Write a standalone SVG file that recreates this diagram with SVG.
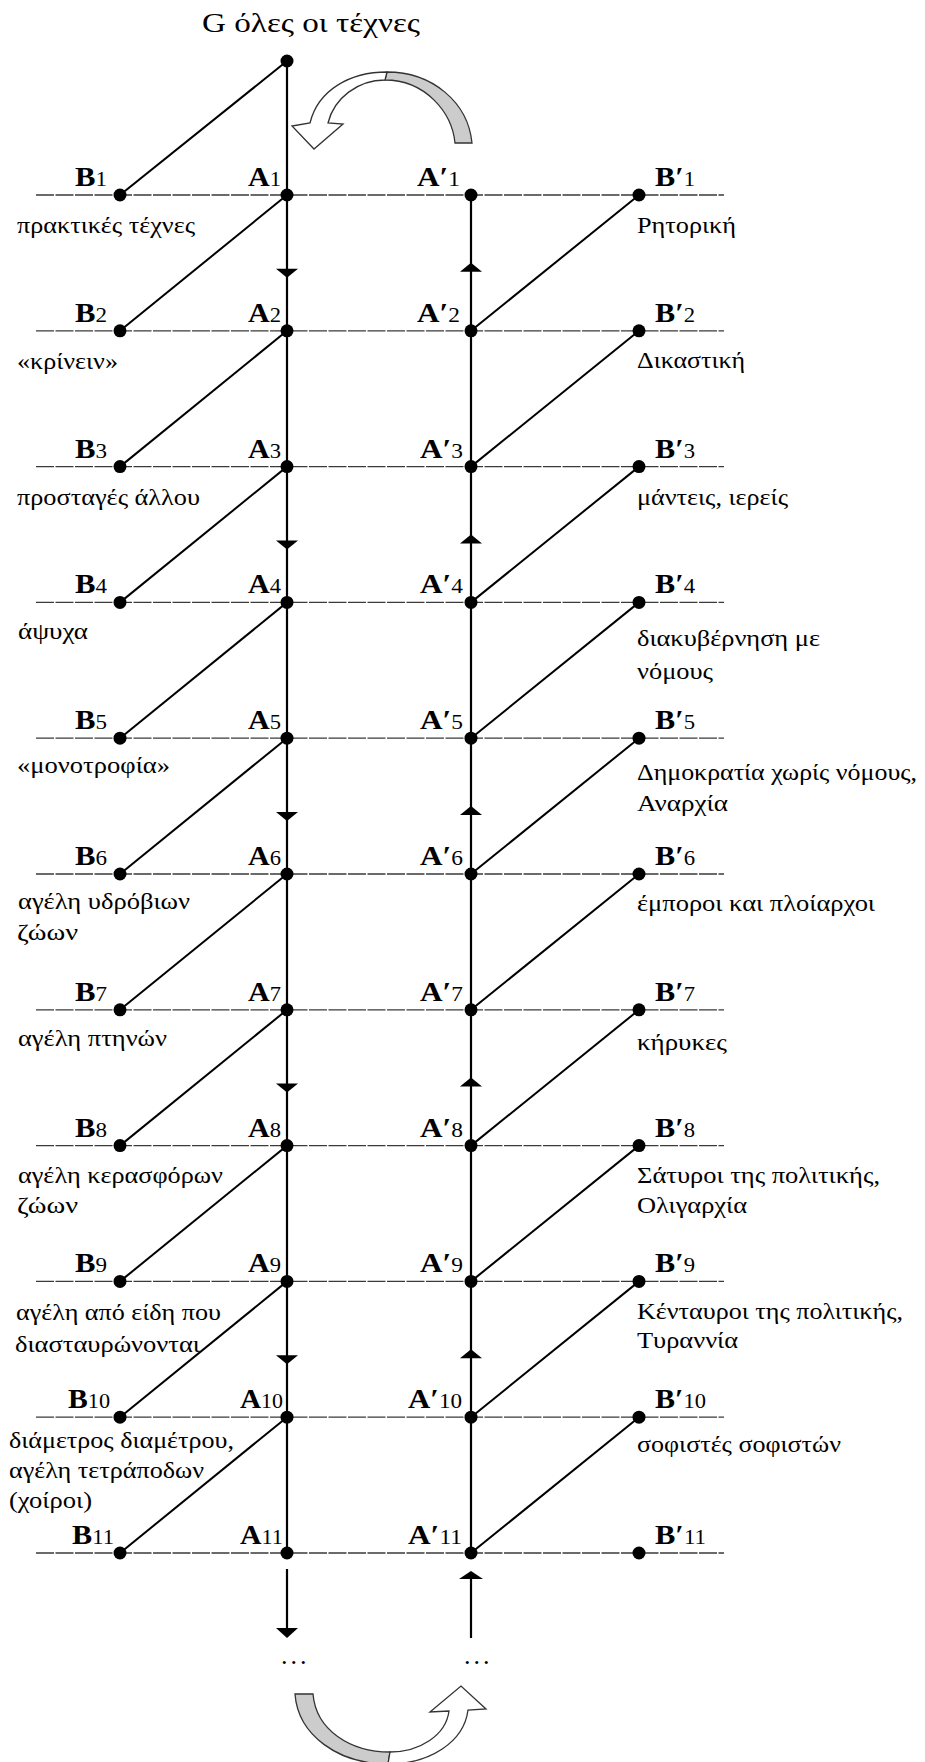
<svg xmlns="http://www.w3.org/2000/svg" width="925" height="1762" viewBox="0 0 925 1762">
<style>
.h{stroke:#3a3a3a;stroke-width:1.3;stroke-dasharray:18 1.5;fill:none}
.v{stroke:#000;stroke-width:2.2;fill:none}
.d{stroke:#000;stroke-width:2;fill:none}
.ah{fill:#000;stroke:none}
.dot{fill:#000}
.lbl{font-family:"Liberation Serif","Times New Roman",serif;font-weight:bold;font-size:28px;fill:#000}
.sub{font-size:21px;font-weight:normal}
.txt{font-family:"Liberation Serif","Times New Roman",serif;font-size:24px;fill:#000}
.ttl{font-family:"Liberation Serif","Times New Roman",serif;font-size:27px;fill:#000}
.dots{font-family:"Liberation Serif","Times New Roman",serif;font-size:26px;letter-spacing:3px;fill:#000}
.cw{fill:#fff;stroke:#333;stroke-width:1.3;stroke-linejoin:miter}
.cg{fill:#cccccc;stroke:#333;stroke-width:1.3}
</style>
<rect width="925" height="1762" fill="#fff"/>

<g id="rows">
<line class="h" x1="36" y1="195" x2="724" y2="195"/>
<line class="h" x1="36" y1="330.8" x2="724" y2="330.8"/>
<line class="h" x1="36" y1="466.6" x2="724" y2="466.6"/>
<line class="h" x1="36" y1="602.4" x2="724" y2="602.4"/>
<line class="h" x1="36" y1="738.2" x2="724" y2="738.2"/>
<line class="h" x1="36" y1="874" x2="724" y2="874"/>
<line class="h" x1="36" y1="1009.8" x2="724" y2="1009.8"/>
<line class="h" x1="36" y1="1145.6" x2="724" y2="1145.6"/>
<line class="h" x1="36" y1="1281.4" x2="724" y2="1281.4"/>
<line class="h" x1="36" y1="1417.2" x2="724" y2="1417.2"/>
<line class="h" x1="36" y1="1553" x2="724" y2="1553"/>
</g>

<g id="connectors">
<line class="v" x1="287" y1="61" x2="287" y2="1553"/>
<line class="v" x1="471" y1="195" x2="471" y2="1553"/>
<line class="d" x1="120" y1="195" x2="287" y2="61"/>
<line class="d" x1="120" y1="330.8" x2="287" y2="195"/>
<line class="d" x1="120" y1="466.6" x2="287" y2="330.8"/>
<line class="d" x1="120" y1="602.4" x2="287" y2="466.6"/>
<line class="d" x1="120" y1="738.2" x2="287" y2="602.4"/>
<line class="d" x1="120" y1="874" x2="287" y2="738.2"/>
<line class="d" x1="120" y1="1009.8" x2="287" y2="874"/>
<line class="d" x1="120" y1="1145.6" x2="287" y2="1009.8"/>
<line class="d" x1="120" y1="1281.4" x2="287" y2="1145.6"/>
<line class="d" x1="120" y1="1417.2" x2="287" y2="1281.4"/>
<line class="d" x1="120" y1="1553" x2="287" y2="1417.2"/>
<line class="d" x1="639" y1="195" x2="471" y2="330.8"/>
<line class="d" x1="639" y1="330.8" x2="471" y2="466.6"/>
<line class="d" x1="639" y1="466.6" x2="471" y2="602.4"/>
<line class="d" x1="639" y1="602.4" x2="471" y2="738.2"/>
<line class="d" x1="639" y1="738.2" x2="471" y2="874"/>
<line class="d" x1="639" y1="874" x2="471" y2="1009.8"/>
<line class="d" x1="639" y1="1009.8" x2="471" y2="1145.6"/>
<line class="d" x1="639" y1="1145.6" x2="471" y2="1281.4"/>
<line class="d" x1="639" y1="1281.4" x2="471" y2="1417.2"/>
<line class="d" x1="639" y1="1417.2" x2="471" y2="1553"/>
<polygon class="ah" points="276,268.8 298,268.8 287,277.8"/>
<polygon class="ah" points="276,540.4 298,540.4 287,549.4"/>
<polygon class="ah" points="276,812 298,812 287,821"/>
<polygon class="ah" points="276,1083.6 298,1083.6 287,1092.6"/>
<polygon class="ah" points="276,1355.2 298,1355.2 287,1364.2"/>
<polygon class="ah" points="460,271.8 482,271.8 471,262.8"/>
<polygon class="ah" points="460,543.4 482,543.4 471,534.4"/>
<polygon class="ah" points="460,815 482,815 471,806"/>
<polygon class="ah" points="460,1086.6 482,1086.6 471,1077.6"/>
<polygon class="ah" points="460,1358.2 482,1358.2 471,1349.2"/>
<line class="v" x1="287" y1="1569" x2="287" y2="1630"/>
<polygon class="ah" points="276,1628 298,1628 287,1638"/>
<line class="v" x1="471" y1="1638" x2="471" y2="1578"/>
<polygon class="ah" points="459,1579 483,1579 471,1571"/>
<text class="dots" x="281" y="1664">...</text>
<text class="dots" x="464" y="1664">...</text>
</g>

<g id="loop-top">
<path class="cg" d="M387,72 C432,72 468,102 472,143 L455,143 C452,112 425,80 385,80 Z"/>
<path class="cw" d="M387,72 C350,72 318,90 310,123 L292,126 L314,149 L343,124 L328,123 C334,98 358,80 385,80 Z"/>
</g>
<g id="loop-bottom">
<path class="cg" d="M295,1694 C298,1735 338,1764 388,1764 L390,1752 C350,1752 316,1730 313,1694 Z"/>
<path class="cw" d="M388,1764 C430,1764 464,1742 468,1710 L486,1709 L461,1686 L430,1712 L449,1711 C446,1735 420,1752 390,1752 Z"/>
</g>

<g id="G"><circle class="dot" cx="287" cy="61" r="6.5"/><text class="ttl" x="202" y="32" textLength="218" lengthAdjust="spacingAndGlyphs">G όλες οι τέχνες</text></g>

<g id="A1"><circle class="dot" cx="287" cy="195" r="6.5"/><text class="lbl" x="248" y="186" textLength="33" lengthAdjust="spacingAndGlyphs">A<tspan class="sub">1</tspan></text></g>
<g id="A2"><circle class="dot" cx="287" cy="330.8" r="6.5"/><text class="lbl" x="248" y="321.8" textLength="33" lengthAdjust="spacingAndGlyphs">A<tspan class="sub">2</tspan></text></g>
<g id="A3"><circle class="dot" cx="287" cy="466.6" r="6.5"/><text class="lbl" x="248" y="457.6" textLength="33" lengthAdjust="spacingAndGlyphs">A<tspan class="sub">3</tspan></text></g>
<g id="A4"><circle class="dot" cx="287" cy="602.4" r="6.5"/><text class="lbl" x="248" y="593.4" textLength="33" lengthAdjust="spacingAndGlyphs">A<tspan class="sub">4</tspan></text></g>
<g id="A5"><circle class="dot" cx="287" cy="738.2" r="6.5"/><text class="lbl" x="248" y="729.2" textLength="33" lengthAdjust="spacingAndGlyphs">A<tspan class="sub">5</tspan></text></g>
<g id="A6"><circle class="dot" cx="287" cy="874" r="6.5"/><text class="lbl" x="248" y="865" textLength="33" lengthAdjust="spacingAndGlyphs">A<tspan class="sub">6</tspan></text></g>
<g id="A7"><circle class="dot" cx="287" cy="1009.8" r="6.5"/><text class="lbl" x="248" y="1000.8" textLength="33" lengthAdjust="spacingAndGlyphs">A<tspan class="sub">7</tspan></text></g>
<g id="A8"><circle class="dot" cx="287" cy="1145.6" r="6.5"/><text class="lbl" x="248" y="1136.6" textLength="33" lengthAdjust="spacingAndGlyphs">A<tspan class="sub">8</tspan></text></g>
<g id="A9"><circle class="dot" cx="287" cy="1281.4" r="6.5"/><text class="lbl" x="248" y="1272.4" textLength="33" lengthAdjust="spacingAndGlyphs">A<tspan class="sub">9</tspan></text></g>
<g id="A10"><circle class="dot" cx="287" cy="1417.2" r="6.5"/><text class="lbl" x="240" y="1408.2" textLength="43" lengthAdjust="spacingAndGlyphs">A<tspan class="sub">10</tspan></text></g>
<g id="A11"><circle class="dot" cx="287" cy="1553" r="6.5"/><text class="lbl" x="240" y="1544" textLength="43" lengthAdjust="spacingAndGlyphs">A<tspan class="sub">11</tspan></text></g>

<g id="Ap1"><circle class="dot" cx="471" cy="195" r="6.5"/><text class="lbl" x="417" y="186" textLength="43" lengthAdjust="spacingAndGlyphs">A′<tspan class="sub">1</tspan></text></g>
<g id="Ap2"><circle class="dot" cx="471" cy="330.8" r="6.5"/><text class="lbl" x="417" y="321.8" textLength="43" lengthAdjust="spacingAndGlyphs">A′<tspan class="sub">2</tspan></text></g>
<g id="Ap3"><circle class="dot" cx="471" cy="466.6" r="6.5"/><text class="lbl" x="420" y="457.6" textLength="43" lengthAdjust="spacingAndGlyphs">A′<tspan class="sub">3</tspan></text></g>
<g id="Ap4"><circle class="dot" cx="471" cy="602.4" r="6.5"/><text class="lbl" x="420" y="593.4" textLength="43" lengthAdjust="spacingAndGlyphs">A′<tspan class="sub">4</tspan></text></g>
<g id="Ap5"><circle class="dot" cx="471" cy="738.2" r="6.5"/><text class="lbl" x="420" y="729.2" textLength="43" lengthAdjust="spacingAndGlyphs">A′<tspan class="sub">5</tspan></text></g>
<g id="Ap6"><circle class="dot" cx="471" cy="874" r="6.5"/><text class="lbl" x="420" y="865" textLength="43" lengthAdjust="spacingAndGlyphs">A′<tspan class="sub">6</tspan></text></g>
<g id="Ap7"><circle class="dot" cx="471" cy="1009.8" r="6.5"/><text class="lbl" x="420" y="1000.8" textLength="43" lengthAdjust="spacingAndGlyphs">A′<tspan class="sub">7</tspan></text></g>
<g id="Ap8"><circle class="dot" cx="471" cy="1145.6" r="6.5"/><text class="lbl" x="420" y="1136.6" textLength="43" lengthAdjust="spacingAndGlyphs">A′<tspan class="sub">8</tspan></text></g>
<g id="Ap9"><circle class="dot" cx="471" cy="1281.4" r="6.5"/><text class="lbl" x="420" y="1272.4" textLength="43" lengthAdjust="spacingAndGlyphs">A′<tspan class="sub">9</tspan></text></g>
<g id="Ap10"><circle class="dot" cx="471" cy="1417.2" r="6.5"/><text class="lbl" x="408" y="1408.2" textLength="54" lengthAdjust="spacingAndGlyphs">A′<tspan class="sub">10</tspan></text></g>
<g id="Ap11"><circle class="dot" cx="471" cy="1553" r="6.5"/><text class="lbl" x="408" y="1544" textLength="54" lengthAdjust="spacingAndGlyphs">A′<tspan class="sub">11</tspan></text></g>

<g id="B1"><circle class="dot" cx="120" cy="195" r="6.5"/><text class="lbl" x="75" y="186" textLength="32" lengthAdjust="spacingAndGlyphs">B<tspan class="sub">1</tspan></text><text class="txt" x="17" y="233" textLength="178" lengthAdjust="spacingAndGlyphs">πρακτικές τέχνες</text></g>
<g id="B2"><circle class="dot" cx="120" cy="330.8" r="6.5"/><text class="lbl" x="75" y="321.8" textLength="32" lengthAdjust="spacingAndGlyphs">B<tspan class="sub">2</tspan></text><text class="txt" x="17" y="368.5" textLength="101" lengthAdjust="spacingAndGlyphs">«κρίνειν»</text></g>
<g id="B3"><circle class="dot" cx="120" cy="466.6" r="6.5"/><text class="lbl" x="75" y="457.6" textLength="32" lengthAdjust="spacingAndGlyphs">B<tspan class="sub">3</tspan></text><text class="txt" x="17" y="505" textLength="183" lengthAdjust="spacingAndGlyphs">προσταγές άλλου</text></g>
<g id="B4"><circle class="dot" cx="120" cy="602.4" r="6.5"/><text class="lbl" x="75" y="593.4" textLength="32" lengthAdjust="spacingAndGlyphs">B<tspan class="sub">4</tspan></text><text class="txt" x="18" y="639" textLength="70" lengthAdjust="spacingAndGlyphs">άψυχα</text></g>
<g id="B5"><circle class="dot" cx="120" cy="738.2" r="6.5"/><text class="lbl" x="75" y="729.2" textLength="32" lengthAdjust="spacingAndGlyphs">B<tspan class="sub">5</tspan></text><text class="txt" x="17" y="773" textLength="153" lengthAdjust="spacingAndGlyphs">«μονοτροφία»</text></g>
<g id="B6"><circle class="dot" cx="120" cy="874" r="6.5"/><text class="lbl" x="75" y="865" textLength="32" lengthAdjust="spacingAndGlyphs">B<tspan class="sub">6</tspan></text><text class="txt" x="18" y="909" textLength="172" lengthAdjust="spacingAndGlyphs">αγέλη υδρόβιων</text><text class="txt" x="17" y="940" textLength="61" lengthAdjust="spacingAndGlyphs">ζώων</text></g>
<g id="B7"><circle class="dot" cx="120" cy="1009.8" r="6.5"/><text class="lbl" x="75" y="1000.8" textLength="32" lengthAdjust="spacingAndGlyphs">B<tspan class="sub">7</tspan></text><text class="txt" x="18" y="1046" textLength="149" lengthAdjust="spacingAndGlyphs">αγέλη πτηνών</text></g>
<g id="B8"><circle class="dot" cx="120" cy="1145.6" r="6.5"/><text class="lbl" x="75" y="1136.6" textLength="32" lengthAdjust="spacingAndGlyphs">B<tspan class="sub">8</tspan></text><text class="txt" x="18" y="1183" textLength="205" lengthAdjust="spacingAndGlyphs">αγέλη κερασφόρων</text><text class="txt" x="17" y="1213" textLength="61" lengthAdjust="spacingAndGlyphs">ζώων</text></g>
<g id="B9"><circle class="dot" cx="120" cy="1281.4" r="6.5"/><text class="lbl" x="75" y="1272.4" textLength="32" lengthAdjust="spacingAndGlyphs">B<tspan class="sub">9</tspan></text><text class="txt" x="16" y="1320" textLength="205" lengthAdjust="spacingAndGlyphs">αγέλη από είδη που</text><text class="txt" x="15" y="1352" textLength="185" lengthAdjust="spacingAndGlyphs">διασταυρώνονται</text></g>
<g id="B10"><circle class="dot" cx="120" cy="1417.2" r="6.5"/><text class="lbl" x="68" y="1408.2" textLength="42" lengthAdjust="spacingAndGlyphs">B<tspan class="sub">10</tspan></text><text class="txt" x="9" y="1448" textLength="225" lengthAdjust="spacingAndGlyphs">διάμετρος διαμέτρου,</text><text class="txt" x="9" y="1478" textLength="195" lengthAdjust="spacingAndGlyphs">αγέλη τετράποδων</text><text class="txt" x="9" y="1508" textLength="83" lengthAdjust="spacingAndGlyphs">(χοίροι)</text></g>
<g id="B11"><circle class="dot" cx="120" cy="1553" r="6.5"/><text class="lbl" x="72" y="1544" textLength="42" lengthAdjust="spacingAndGlyphs">B<tspan class="sub">11</tspan></text></g>

<g id="Bp1"><circle class="dot" cx="639" cy="195" r="6.5"/><text class="lbl" x="655" y="186" textLength="40" lengthAdjust="spacingAndGlyphs">B′<tspan class="sub">1</tspan></text><text class="txt" x="637" y="233" textLength="99" lengthAdjust="spacingAndGlyphs">Ρητορική</text></g>
<g id="Bp2"><circle class="dot" cx="639" cy="330.8" r="6.5"/><text class="lbl" x="655" y="321.8" textLength="40" lengthAdjust="spacingAndGlyphs">B′<tspan class="sub">2</tspan></text><text class="txt" x="637" y="368" textLength="108" lengthAdjust="spacingAndGlyphs">Δικαστική</text></g>
<g id="Bp3"><circle class="dot" cx="639" cy="466.6" r="6.5"/><text class="lbl" x="655" y="457.6" textLength="40" lengthAdjust="spacingAndGlyphs">B′<tspan class="sub">3</tspan></text><text class="txt" x="637" y="505" textLength="151" lengthAdjust="spacingAndGlyphs">μάντεις, ιερείς</text></g>
<g id="Bp4"><circle class="dot" cx="639" cy="602.4" r="6.5"/><text class="lbl" x="655" y="593.4" textLength="40" lengthAdjust="spacingAndGlyphs">B′<tspan class="sub">4</tspan></text><text class="txt" x="637" y="646" textLength="183" lengthAdjust="spacingAndGlyphs">διακυβέρνηση με</text><text class="txt" x="637" y="679" textLength="76" lengthAdjust="spacingAndGlyphs">νόμους</text></g>
<g id="Bp5"><circle class="dot" cx="639" cy="738.2" r="6.5"/><text class="lbl" x="655" y="729.2" textLength="40" lengthAdjust="spacingAndGlyphs">B′<tspan class="sub">5</tspan></text><text class="txt" x="637" y="780" textLength="280" lengthAdjust="spacingAndGlyphs">Δημοκρατία χωρίς νόμους,</text><text class="txt" x="637" y="811" textLength="91" lengthAdjust="spacingAndGlyphs">Αναρχία</text></g>
<g id="Bp6"><circle class="dot" cx="639" cy="874" r="6.5"/><text class="lbl" x="655" y="865" textLength="40" lengthAdjust="spacingAndGlyphs">B′<tspan class="sub">6</tspan></text><text class="txt" x="637" y="911" textLength="238" lengthAdjust="spacingAndGlyphs">έμποροι και πλοίαρχοι</text></g>
<g id="Bp7"><circle class="dot" cx="639" cy="1009.8" r="6.5"/><text class="lbl" x="655" y="1000.8" textLength="40" lengthAdjust="spacingAndGlyphs">B′<tspan class="sub">7</tspan></text><text class="txt" x="637" y="1050" textLength="90" lengthAdjust="spacingAndGlyphs">κήρυκες</text></g>
<g id="Bp8"><circle class="dot" cx="639" cy="1145.6" r="6.5"/><text class="lbl" x="655" y="1136.6" textLength="40" lengthAdjust="spacingAndGlyphs">B′<tspan class="sub">8</tspan></text><text class="txt" x="637" y="1183" textLength="243" lengthAdjust="spacingAndGlyphs">Σάτυροι της πολιτικής,</text><text class="txt" x="637" y="1213" textLength="110" lengthAdjust="spacingAndGlyphs">Ολιγαρχία</text></g>
<g id="Bp9"><circle class="dot" cx="639" cy="1281.4" r="6.5"/><text class="lbl" x="655" y="1272.4" textLength="40" lengthAdjust="spacingAndGlyphs">B′<tspan class="sub">9</tspan></text><text class="txt" x="637" y="1319" textLength="266" lengthAdjust="spacingAndGlyphs">Κένταυροι της πολιτικής,</text><text class="txt" x="637" y="1348" textLength="101" lengthAdjust="spacingAndGlyphs">Τυραννία</text></g>
<g id="Bp10"><circle class="dot" cx="639" cy="1417.2" r="6.5"/><text class="lbl" x="655" y="1408.2" textLength="51" lengthAdjust="spacingAndGlyphs">B′<tspan class="sub">10</tspan></text><text class="txt" x="637" y="1452" textLength="204" lengthAdjust="spacingAndGlyphs">σοφιστές σοφιστών</text></g>
<g id="Bp11"><circle class="dot" cx="639" cy="1553" r="6.5"/><text class="lbl" x="655" y="1544" textLength="51" lengthAdjust="spacingAndGlyphs">B′<tspan class="sub">11</tspan></text></g>
</svg>
